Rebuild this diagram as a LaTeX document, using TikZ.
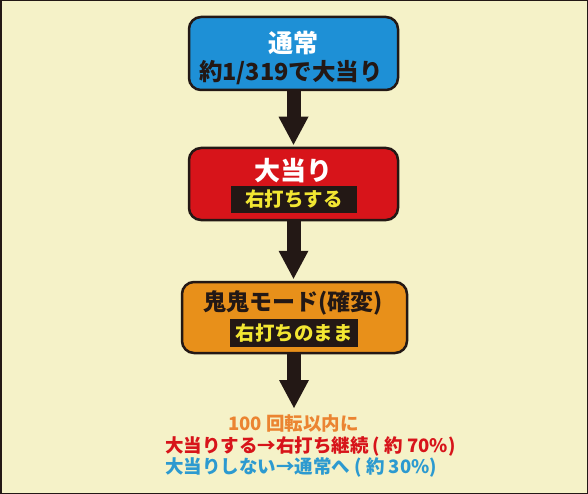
\documentclass[tikz,border=0pt]{standalone}
\usepackage{fontspec}
\setmainfont{Noto Sans CJK JP}
\usetikzlibrary{arrows.meta}
\definecolor{bg}{HTML}{F5F2C8}
\definecolor{frame}{HTML}{231815}
\definecolor{bluebox}{HTML}{1E90D6}
\definecolor{redbox}{HTML}{D7141A}
\definecolor{orangebox}{HTML}{E8901A}
\definecolor{labelyellow}{HTML}{F2E632}
\definecolor{txtorange}{HTML}{EB8431}
\definecolor{txtred}{HTML}{D7141A}
\definecolor{txtblue}{HTML}{2C9AD0}
\tikzset{
  flowbox/.style={draw=frame, line width=2.5pt, rounded corners=12pt, inner sep=0pt},
  tagbox/.style={fill=frame, text=labelyellow, inner sep=0pt, font=\bfseries\fontsize{19.5}{21}\selectfont},
  bigarrow/.style={draw=frame, line width=14pt, shorten >=2pt, -{Triangle[length=28pt,width=30pt,line width=0pt]}},
  note/.style={inner sep=0pt, font=\bfseries\fontsize{18.5}{20}\selectfont}
}
\begin{document}
\begin{tikzpicture}[x=1pt,y=-1pt]
\fill[bg] (0,0) rectangle (588,494);
\useasboundingbox (0,0) rectangle (588,494);
\draw[frame, line width=1.5pt] (0.75,0.75) rectangle (587.25,493.25);

% box 1
\node[flowbox, fill=bluebox, minimum width=209pt, minimum height=73pt] (b1) at (293.5,53.5) {};
\node[inner sep=0pt, text=white, font=\bfseries\fontsize{25}{27}\selectfont] (b1t) at (293.5,43) {通常};
\node[inner sep=0pt, text=frame, font=\bfseries\fontsize{23.5}{25}\selectfont] (b1s) at (291,73) {約1/319で大当り};

% box 2
\node[flowbox, fill=redbox, minimum width=209pt, minimum height=72pt] (b2) at (293.5,184) {};
\node[inner sep=0pt, text=white, font=\bfseries\fontsize{26}{28}\selectfont] (b2t) at (293.5,171) {大当り};
\node[tagbox, minimum width=126pt, minimum height=27pt] (b2s) at (294,199.5) {右打ちする};

% box 3
\node[flowbox, fill=orangebox, minimum width=225pt, minimum height=71pt] (b3) at (294.5,317.5) {};
\node[inner sep=0pt, text=frame, font=\bfseries\fontsize{23}{25}\selectfont] (b3t) at (293,303) {鬼鬼モード(確変)};
\node[tagbox, minimum width=128pt, minimum height=28pt] (b3s) at (294,333) {右打ちのまま};

% arrows
\coordinate (tip) at (294,410);
\draw[bigarrow] (b1.south) -- (b1.south |- b2.north);
\draw[bigarrow] (b2.south) -- (b2.south |- b3.north);
\draw[bigarrow] (b3.south -| tip) -- (tip);

% bottom texts
\node[note, text=txtorange] (t1) at (293.5,423) {100 回転以内に};
\node[note, text=txtred, anchor=west] (t2) at (165,446) {大当りする→右打ち継続 ( 約 70\%)};
\node[note, text=txtblue, anchor=west] (t3) at (165,467) {大当りしない→通常へ ( 約 30\%)};
\end{tikzpicture}
\end{document}
